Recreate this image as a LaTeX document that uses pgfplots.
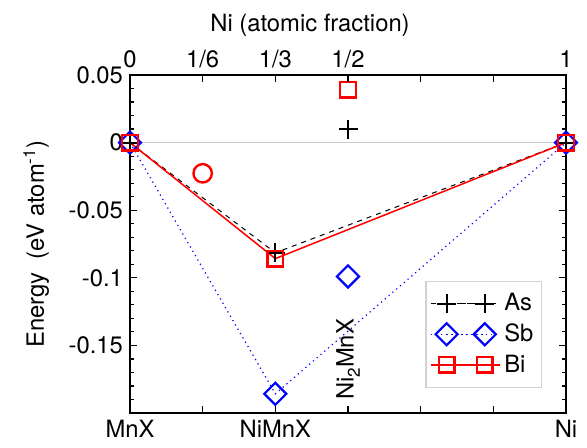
\documentclass[border=0pt]{standalone}
\usepackage{fontspec}
\setmainfont{TeX Gyre Heros}
\usepackage{pgfplots}
\pgfplotsset{compat=1.18}
\begin{document}
\begin{tikzpicture}[font=\fontsize{11.9}{14}\selectfont]
\useasboundingbox (-65pt,-17pt) rectangle (228.5pt,206.5pt);
\begin{axis}[
  name=main,
  scale only axis, width=218pt, height=169pt,
  xmin=0, xmax=1, ymin=-0.2, ymax=0.05,
  axis line style={line width=0.8pt},
  tick align=inside,
  xtick={0,0.166667,0.333333,0.5,0.666667,0.833333,1},
  xticklabels={MnX,,NiMnX,,,,Ni},
  xtick pos=both,
  ytick={-0.2,-0.15,-0.1,-0.05,0,0.05},
  yticklabels={,-0.15,-0.1,-0.05,0,0.05},
  minor y tick num=4,
  ytick pos=both,
  major tick length=3.5pt, minor tick length=2pt,
  tick style={black, line width=0.6pt},
  ylabel={Energy\ \ (eV atom\textsuperscript{-1})},
  ylabel style={xshift=0pt, yshift=3pt},
  legend cell align=left,
  legend style={at={(axis description cs:0.945,0.074)}, anchor=south east,
    draw=black!18, line width=0.6pt, row sep=1pt, inner xsep=2pt, inner ysep=4.2pt},
  legend image code/.code={%
    \path (-0.28cm,0) -- (0.93cm,0);
    \draw[#1] plot coordinates {(0cm,0cm) (0.67cm,0cm)};},
]
\addplot[black!20, line width=0.8pt, forget plot] coordinates {(0,0) (1,0)};
\addplot[black, dashed, dash pattern=on 2.5pt off 2.5pt, line width=0.5pt,
  mark=+, mark size=4.75pt, mark options={solid, line width=1pt}]
  coordinates {(0,0) (0.333333,-0.0815) (1,0)};
\addlegendentry{As}
\addplot[blue, dash pattern=on 0.6pt off 1.9pt, line width=0.6pt,
  mark=square, mark size=3.9pt, mark options={solid, rotate=45, line width=1.1pt}]
  coordinates {(0,0) (0.333333,-0.1858) (1,0)};
\addlegendentry{Sb}
\addplot[red, solid, line width=0.75pt,
  mark=square, mark size=3.9pt, mark options={solid, line width=1.2pt}]
  coordinates {(0,0) (0.333333,-0.0858) (1,0)};
\addlegendentry{Bi}
\addplot[black, only marks, mark=+, mark size=4.75pt, mark options={line width=1pt}, forget plot]
  coordinates {(0.5,0.010)};
\addplot[blue, only marks, mark=square, mark size=3.9pt, mark options={rotate=45, line width=1.1pt}, forget plot]
  coordinates {(0.5,-0.099)};
\addplot[red, only marks, mark=square, mark size=3.9pt, mark options={line width=1.2pt}, forget plot]
  coordinates {(0.5,0.039)};
\addplot[red, only marks, mark=o, mark size=4.6pt, mark options={line width=1.2pt}, forget plot]
  coordinates {(0.166667,-0.0227)};
\node[rotate=90, anchor=west, inner sep=0pt] at (axis cs:0.5,-0.1905)
  {Ni\raisebox{-0.5ex}{\fontsize{8.5}{10}\selectfont 2}MnX};
\end{axis}
\begin{axis}[
  scale only axis, width=218pt, height=169pt,
  xmin=0, xmax=1, ymin=-0.2, ymax=0.05,
  axis x line*=top, hide y axis,
  axis line style={line width=0.8pt, -},
  tick align=inside,
  xtick={0,0.166667,0.333333,0.5,0.666667,0.833333,1},
  xticklabels={0,1/6,1/3,1/2,,,1},
  major tick length=3.5pt,
  tick style={black, line width=0.6pt},
  xlabel={Ni (atomic fraction)},
  xlabel style={xshift=-19pt},
]
\addplot[draw=none] coordinates {(0,0)};
\end{axis}
\end{tikzpicture}
\end{document}
